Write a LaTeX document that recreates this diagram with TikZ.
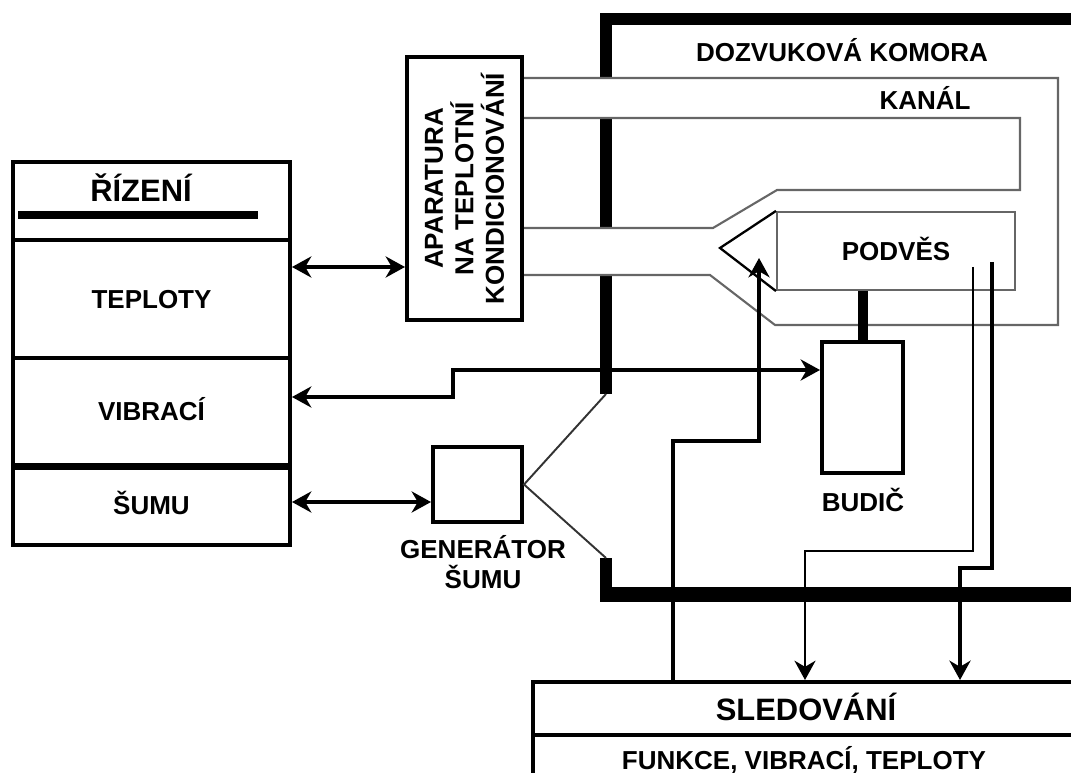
\documentclass[tikz,border=0pt]{standalone}
\usepackage{fontspec}
\setmainfont{Liberation Sans}
\usetikzlibrary{arrows.meta}

\tikzset{
  box/.style={draw, line width=2.3pt, inner sep=0pt},
  txt/.style={font=\fontsize{14.8}{17.6}\selectfont\bfseries, text height=10.6pt, text depth=0pt, inner sep=0pt},
  txtml/.style={font=\fontsize{14.8}{17.4}\selectfont\bfseries, inner sep=0pt, align=center},
  txtbig/.style={font=\fontsize{17.6}{20}\selectfont\bfseries, text height=12.6pt, text depth=0pt, inner sep=0pt},
  wall/.style={line width=6.5pt},
  kanal/.style={draw=black!60, line width=1.2pt},
  hrot/.tip={Stealth[length=11pt,width=12pt,inset=3.5pt]},
  spoj/.style={line width=2.2pt, -hrot},
  spoj2/.style={line width=2.2pt, hrot-hrot},
}

\begin{document}
\begin{tikzpicture}[x=0.02cm, y=-0.02cm]
  \useasboundingbox (0,0) rectangle (1071,773);
  \clip (0,0) rectangle (1071,773);

  % Řízení
  \node[box, minimum width=5.54cm, minimum height=1.56cm] (rizhlava) at (151.5,201) {};
  \node[box, minimum width=5.54cm, minimum height=2.36cm, txt] (riztep) at (151.5,299) {TEPLOTY};
  \node[box, minimum width=5.54cm, minimum height=2.14cm, txt] (rizvib) at (151.5,411.5) {VIBRACÍ};
  \node[box, minimum width=5.54cm, minimum height=1.6cm, txt] (rizsum) at (151.5,505) {ŠUMU};
  \node[txtbig] (riztxt) at (141,190) {ŘÍZENÍ};
  \draw[line width=4pt] (18,215) -- (258,215);
  \draw[line width=3.6pt] (rizvib.south west) -- (rizvib.south east);

  % Aparatura, generátor
  \node[box, minimum width=2.3cm, minimum height=5.26cm] (apar) at (464.5,188.5) {};
  \node[txtml, rotate=90] (apartxt) at (apar) {APARATURA\\NA TEPLOTNÍ\\KONDICIONOVÁNÍ};
  \node[box, minimum width=1.78cm, minimum height=1.5cm] (gen) at (477.5,484.5) {};
  \node[txtml] (gentxt) at (483,562) {GENERÁTOR\\ŠUMU};

  % Dozvuková komora
  \draw[wall, line join=miter] (606,78) -- (606,19) -- (1090,19);
  \draw[wall] (606,118) -- (606,228);
  \draw[wall] (606,275) -- (606,394);
  \draw[wall] (606,558) -- (606,590);
  \draw[line width=8.5pt] (600,594.5) -- (1090,594.5);
  \node[txt] (komtxt) at (842,52) {DOZVUKOVÁ KOMORA};

  % Kanál
  \draw[kanal] (apar.east |- 0,78) -- (1058,78) -- (1058,325) -- (775,325) -- (710,275) -- (apar.east |- 0,275);
  \draw[kanal] (apar.east |- 0,118) -- (1020,118) -- (1020,190) -- (777,190) -- (713,228) -- (apar.east |- 0,228);
  \node[txt] (kantxt) at (925,100) {KANÁL};

  % Podvěs a budič
  \node[kanal, minimum width=4.76cm, minimum height=1.56cm, inner sep=0pt, txt] (podves) at (896,251) {PODVĚS};
  \draw[line width=1.3pt] (podves.north west) -- (720,248) -- (podves.south west);
  \node[box, minimum width=1.62cm, minimum height=2.62cm] (budic) at (862.5,407.5) {};
  \node[txt] (budtxt) at (863,502) {BUDIČ};
  \draw[line width=5.7pt] (budic.north) -- (budic.north |- podves.south);

  % Sledování
  \node[box, minimum width=11.6cm, minimum height=1.06cm, anchor=north west] (sled) at (531,680) {};
  \node[box, minimum width=11.6cm, minimum height=1.2cm, anchor=north west] (sledfun) at (531,733) {};
  \node[txtbig] (sledtxt) at (806,709) {SLEDOVÁNÍ};
  \node[txt] (funtxt) at (804,760) {FUNKCE, VIBRACÍ, TEPLOTY};

  % spoje
  \draw[spoj2] (riztep.east |- 0,267) -- (apar.west |- 0,267);
  \draw[spoj2] (rizvib.east |- 0,397) -- (453,397) -- (453,370) -- (budic.west |- 0,370);
  \draw[spoj2] (rizsum.east |- 0,502) -- (gen.west |- 0,502);
  \draw[line width=1.1pt, black!80] (606,394) -- (gen.east) -- (606,558);
  \draw[spoj] (673,0 |- sled.north) -- (673,441) -- (759,441) -- (759,258);
  \draw[line width=1.4pt, -hrot] (973,267) -- (973,551) -- (805,551) -- (805,0 |- sled.north);
  \draw[spoj] (992,262) -- (992,568) -- (960,568) -- (960,0 |- sled.north);
\end{tikzpicture}
\end{document}
